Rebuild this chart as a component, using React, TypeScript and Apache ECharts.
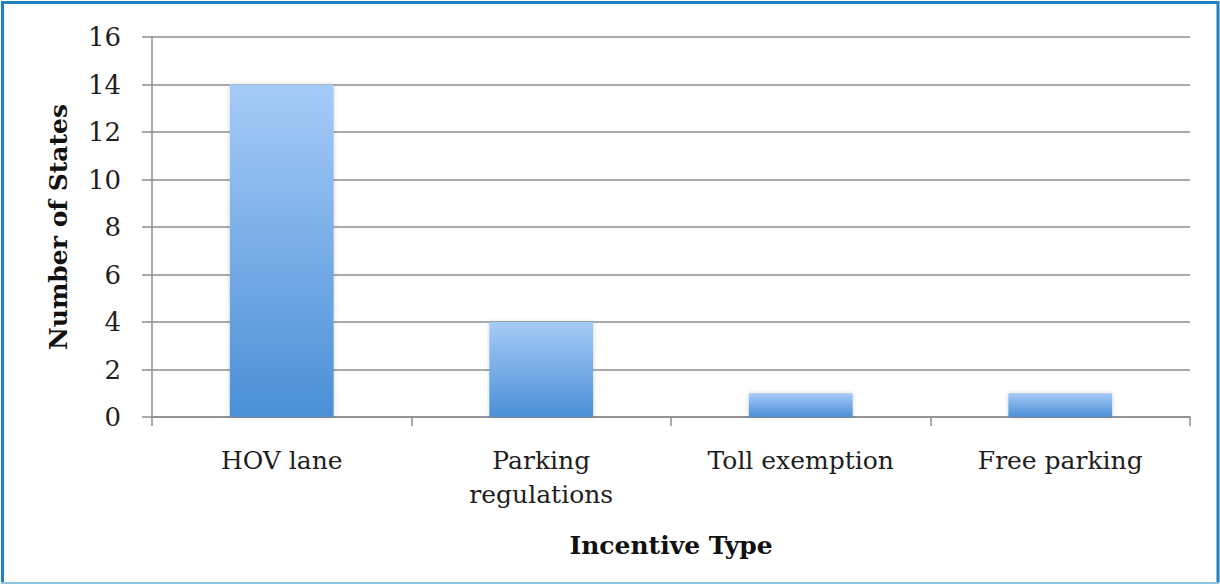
import React, { useEffect, useRef } from "react";
import * as echarts from "echarts";

const categories = ["HOV lane", "Parking\nregulations", "Toll exemption", "Free parking"];
const stateCounts = [14, 4, 1, 1];
const yTicks = { min: 0, max: 16, interval: 2 };
const xAxisTitle = "Incentive Type";
const yAxisTitle = "Number of States";

const FONT = "DejaVu Serif";

export default function App() {
  const ref = useRef<HTMLDivElement>(null);
  useEffect(() => {
    const chart = echarts.init(ref.current!, null, { renderer: "svg" });
    chart.setOption({
      animation: false,
      backgroundColor: "#ffffff",
      grid: { left: 152, right: 30, top: 37, bottom: 167, containLabel: false },
      xAxis: {
        type: "category",
        data: categories,
        name: xAxisTitle,
        nameLocation: "middle",
        nameGap: 116,
        nameTextStyle: { fontFamily: FONT, fontSize: 25, fontWeight: "bold", color: "#111" },
        axisLine: { lineStyle: { color: "#8c8c8c", width: 1.5 } },
        axisTick: { show: true, alignWithLabel: false, length: 9, lineStyle: { color: "#8c8c8c", width: 1.5 } },
        axisLabel: { fontFamily: FONT, fontSize: 25, color: "#1e1e1e", margin: 26, lineHeight: 34, interval: 0 },
      },
      yAxis: {
        type: "value",
        min: yTicks.min,
        max: yTicks.max,
        interval: yTicks.interval,
        name: yAxisTitle,
        nameLocation: "middle",
        nameGap: 81,
        nameRotate: 90,
        nameTextStyle: { fontFamily: FONT, fontSize: 25, fontWeight: "bold", color: "#111" },
        axisLine: { show: true, lineStyle: { color: "#8c8c8c", width: 1.5 } },
        axisTick: { show: true, length: 10, lineStyle: { color: "#8c8c8c", width: 1.5 } },
        axisLabel: { fontFamily: FONT, fontSize: 26, color: "#1e1e1e", margin: 31 },
        splitLine: { show: true, lineStyle: { color: "#8c8c8c", width: 1.5 } },
      },
      series: [
        {
          type: "bar",
          data: stateCounts,
          barCategoryGap: "60%",
          itemStyle: {
            color: new echarts.graphic.LinearGradient(0, 0, 0, 1, [
              { offset: 0, color: "#a6cbf8" },
              { offset: 1, color: "#4a8fd6" },
            ]),
            shadowColor: "rgba(0,0,0,0.18)",
            shadowBlur: 4,
          },
        },
      ],
      graphic: [
        { type: "line", shape: { x1: 1, y1: 2.5, x2: 1219, y2: 2.5 }, style: { stroke: "#1f80c0", lineWidth: 3 } },
        { type: "line", shape: { x1: 2.5, y1: 1, x2: 2.5, y2: 583 }, style: { stroke: "#1f80c0", lineWidth: 3 } },
        { type: "line", shape: { x1: 1218, y1: 1, x2: 1218, y2: 583 }, style: { stroke: "#1f80c0", lineWidth: 3 } },
        { type: "line", shape: { x1: 1, y1: 583, x2: 1219, y2: 583 }, style: { stroke: "#8cc3e0", lineWidth: 2 } },
      ],
    });
    return () => chart.dispose();
  }, []);
  return (
    <div
      ref={ref}
      style={{ position: "fixed", left: 0, top: 0, width: 1220, height: 584 }}
    />
  );
}
